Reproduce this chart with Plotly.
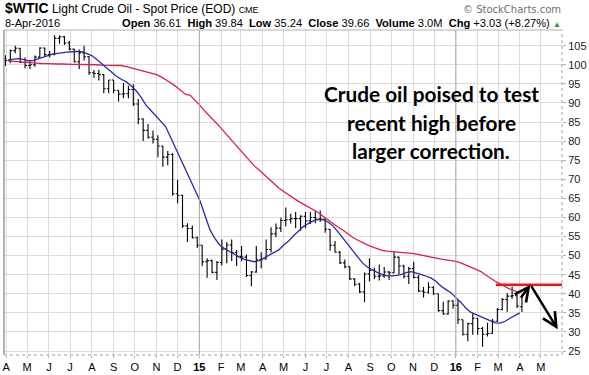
import pandas as pd
import plotly.graph_objects as go

# ---------------- data (weekly bars) ----------------
bar_start = "2014-03-31"
opens = [101.6,101.1,103.7,104.3,100.6,99.8,100.0,102.0,104.4,102.7,
         102.7,106.9,107.3,105.7,104.1,100.8,103.1,102.1,97.9,97.7,
         97.4,93.7,96.0,93.3,92.3,92.4,93.5,89.7,85.8,82.8,
         81.0,80.5,78.7,75.8,76.5,66.2,65.8,57.8,57.1,54.7,
         52.7,48.4,48.7,45.6,48.2,51.7,52.8,50.8,49.8,49.6,
         44.8,45.7,48.9,49.1,51.6,55.7,57.2,59.2,59.4,59.7,
         59.7,60.3,59.1,60.0,59.6,59.6,56.9,52.7,50.9,48.1,
         47.1,43.9,42.5,40.5,45.2,46.1,44.6,44.7,45.7,45.5,
         49.6,47.3,44.6,46.6,44.3,40.7,40.4,41.7,40.0,35.6,
         34.7,38.1,37.0,33.2,29.4,32.2,33.6,30.9,29.4,29.6,
         32.8,35.9,38.5,39.4,39.5,36.61]
highs = [102.5,104.0,105.0,104.4,101.9,101.0,102.4,104.6,104.5,103.6,
         107.7,107.7,107.5,106.2,104.2,104.0,105.0,102.3,98.6,98.7,
         97.5,96.0,96.0,93.3,95.2,94.5,94.9,91.0,86.0,84.5,
         82.8,81.5,78.7,77.4,76.9,69.9,65.9,58.5,57.9,55.0,
         52.7,49.3,49.0,48.6,54.2,53.6,54.2,51.5,52.5,50.3,
         46.0,52.5,50.9,54.2,57.4,58.4,59.9,62.6,61.0,61.4,
         60.6,61.4,61.4,61.6,61.8,59.7,57.0,53.8,51.2,49.0,
         47.2,44.0,42.9,45.6,49.3,46.8,47.7,47.0,46.0,50.9,
         49.8,47.6,47.0,48.4,44.9,41.8,43.0,42.0,40.0,37.9,
         38.3,38.3,38.4,33.2,32.4,34.8,33.6,31.4,32.4,33.4,
         36.3,38.9,40.2,41.9,39.9,39.84]
lows = [99.7,100.4,103.0,100.5,99.0,98.9,99.5,101.9,102.3,101.9,
        102.5,105.5,105.2,103.8,100.6,98.9,101.1,97.4,96.6,95.9,
        92.5,92.5,92.5,90.4,91.2,91.2,89.2,84.4,80.0,80.7,
        79.4,75.8,73.3,73.7,65.7,63.7,57.3,53.6,54.5,52.0,
        47.2,44.2,45.4,43.6,47.4,48.0,48.6,47.3,48.5,44.4,
        42.0,45.5,46.7,49.0,50.8,54.8,56.2,57.6,58.4,57.2,
        56.5,57.2,58.3,58.5,58.9,56.0,51.3,50.8,47.8,46.7,
        43.6,42.0,40.2,37.8,43.2,43.9,43.5,44.2,43.6,45.4,
        45.2,44.0,42.6,44.0,40.5,39.0,40.0,39.7,35.3,34.5,
        34.5,36.1,32.1,29.1,27.6,29.3,29.3,26.1,28.8,29.6,
        32.7,35.7,35.3,38.7,36.3,35.24]
closes = [101.1,103.7,104.3,100.6,99.8,100.0,102.0,104.4,102.7,102.7,
          106.9,107.3,105.7,104.1,100.8,103.1,102.1,97.9,97.7,97.4,
          93.7,96.0,93.3,92.3,92.4,93.5,89.7,85.8,82.8,81.0,
          80.5,78.7,75.8,76.5,66.2,65.8,57.8,57.1,54.7,52.7,
          48.4,48.7,45.6,48.2,51.7,52.8,50.8,49.8,49.6,44.8,
          45.7,48.9,49.1,51.6,55.7,57.2,59.2,59.4,59.7,59.7,
          60.3,59.1,60.0,59.6,59.6,56.9,52.7,50.9,48.1,47.1,
          43.9,42.5,40.5,45.2,46.1,44.6,44.7,45.7,45.5,49.6,
          47.3,44.6,46.6,44.3,40.7,40.4,41.7,40.0,35.6,34.7,
          38.1,37.0,33.2,29.4,32.2,33.6,30.9,29.4,29.6,32.8,
          35.9,38.5,39.4,39.5,36.8,39.66]

ma_start = "2014-04-04"
ma_short = [101.3,101.5,101.6,101.4,101.1,101.1,101.5,102.1,102.5,102.8,
            103.0,103.2,103.3,103.4,103.5,103.4,103.0,102.4,101.4,100.3,
            99.1,97.9,97.0,96.2,95.5,94.5,93.2,91.5,89.4,88.0,
            86.6,85.2,83.8,81.0,78.2,75.5,72.5,70.0,66.8,64.3,
            60.5,56.8,54.5,52.8,51.8,51.0,50.2,49.6,49.0,48.6,
            48.4,48.7,49.4,50.0,50.6,51.5,52.8,53.8,55.2,56.5,
            57.6,58.4,59.1,59.5,59.4,58.8,57.8,56.3,54.7,53.2,
            51.5,49.8,48.1,47.0,46.2,45.6,45.1,44.7,44.7,44.8,
            45.1,45.6,45.8,45.5,45.0,44.6,44.1,43.2,42.0,41.1,
            40.3,39.0,37.8,36.3,35.2,34.6,34.0,33.5,32.8,32.4,
            32.3,32.8,33.6,34.3,35.0]
ma_long = [101.0,100.9,100.8,100.6,100.5,100.4,100.3,100.3,100.3,100.2,
           100.2,100.2,100.1,100.1,100.1,100.1,100.1,100.0,100.0,99.9,
           99.9,99.9,99.8,99.8,99.5,99.2,98.9,98.6,98.3,97.9,
           97.5,96.9,96.2,95.3,94.4,93.3,92.3,92.0,90.7,89.3,
           87.8,86.5,85.3,83.8,82.3,80.8,79.3,77.8,76.4,74.9,
           73.5,72.4,71.2,70.0,68.8,67.7,66.8,65.9,65.1,64.2,
           63.5,62.8,62.0,61.3,60.3,59.3,58.3,57.5,56.7,55.7,
           54.8,54.1,53.4,52.8,52.3,51.8,51.4,51.2,51.1,51.0,
           51.0,50.9,50.6,50.4,50.1,49.9,49.6,49.4,49.1,48.9,
           48.8,48.5,48.1,47.6,47.1,46.5,45.9,45.0,44.1,43.3,
           42.6,41.9,41.2,40.8,40.3]

month_ticks = ["A","M","J","J","A","S","O","N","D","<b>15</b>","F","M",
               "A","M","J","J","A","S","O","N","D","<b>16</b>","F","M","A","M"]
y_ticks = list(range(25, 110, 5))

note_lines = ["Crude oil poised to test", "recent high before", "larger correction."]

resistance_level = 42.4
resistance_from = "2016-02-27"
arrow_up = [("2016-04-01", 38.6), ("2016-04-16", 42.4)]
arrow_down = [("2016-04-16", 42.4), ("2016-05-25", 30.7)]

# ---------------- figure ----------------
bar_dates = pd.date_range(bar_start, periods=len(closes), freq="7D")
ma_dates = pd.date_range(ma_start, periods=len(ma_short), freq="7D")
month_vals = pd.date_range("2014-04-01", periods=len(month_ticks), freq="MS")

fig = go.Figure()
fig.add_trace(go.Scatter(x=ma_dates, y=ma_long, mode="lines",
                         line=dict(color="#dc1e4b", width=1.3), hoverinfo="skip"))
fig.add_trace(go.Scatter(x=ma_dates, y=ma_short, mode="lines",
                         line=dict(color="#2a2aa6", width=1.3), hoverinfo="skip"))
fig.add_trace(go.Ohlc(x=bar_dates, open=opens, high=highs, low=lows, close=closes,
                      increasing=dict(line=dict(color="black", width=1.1)),
                      decreasing=dict(line=dict(color="black", width=1.1)),
                      tickwidth=0.38))

W, H = 589, 375
L, R, T, B = 2, 27, 30, 13
pw, ph = W - L - R, H - T - B
def px(x): return (x - L) / pw
def py(y): return (H - B - y) / ph

shapes = []
for yr in ["2015-01-01", "2016-01-01"]:
    shapes.append(dict(type="line", xref="x", yref="paper", x0=yr, x1=yr, y0=0, y1=1,
                       line=dict(color="#a8a8a8", width=1)))
shapes += [
    dict(type="line", xref="paper", yref="paper", x0=0, x1=0, y0=0, y1=1, line=dict(color="#9a9a9a", width=1.5)),
    dict(type="line", xref="paper", yref="paper", x0=0, x1=1, y0=1, y1=1, line=dict(color="#b0b0b0", width=1)),
    dict(type="line", xref="paper", yref="paper", x0=1, x1=1, y0=0, y1=1, line=dict(color="#a0a0a0", width=1, dash="dot")),
    dict(type="line", xref="paper", yref="paper", x0=0, x1=1, y0=0, y1=0, line=dict(color="#a0a0a0", width=1, dash="dot")),
    dict(type="line", xref="x", yref="y", x0=resistance_from, x1="2016-05-31",
         y0=resistance_level, y1=resistance_level, line=dict(color="#ff1010", width=2.5)),
]

ann = [
    dict(x=px(1), y=py(8), xref="paper", yref="paper", xanchor="left", yanchor="middle", showarrow=False,
         text="<b><span style='font-size:14px'>$WTIC</span></b> Light Crude Oil - Spot Price (EOD) <span style='font-size:9px'>CME</span>",
         font=dict(family="Liberation Sans, Arial", size=12, color="black")),
    dict(x=px(1), y=py(23), xref="paper", yref="paper", xanchor="left", yanchor="middle", showarrow=False,
         text="8-Apr-2016", font=dict(family="Liberation Sans, Arial", size=11, color="black")),
    dict(x=px(563), y=py(22.5), xref="paper", yref="paper", xanchor="right", yanchor="middle", showarrow=False,
         text="<b>Open</b> 36.61  <b>High</b> 39.84  <b>Low</b> 35.24  <b>Close</b> 39.66  <b>Volume</b> 3.0M  <b>Chg</b> +3.03 (+8.27%) <span style='color:#1a9a1a;font-size:8px'>▲</span>",
         font=dict(family="Liberation Sans, Arial", size=11.1, color="black")),
    dict(x=px(563), y=py(9), xref="paper", yref="paper", xanchor="right", yanchor="middle", showarrow=False,
         text="© StockCharts.com", font=dict(family="DejaVu Sans", size=10, color="#707070")),
]
for i, line in enumerate(note_lines):
    ann.append(dict(x=px(431), y=py(95 + 29 * i), xref="paper", yref="paper", xanchor="center",
                    yanchor="middle", showarrow=False, text="<b>" + line + "</b>",
                    font=dict(family="Lato", size=20.8, color="black")))
for (t, h) in (arrow_up, arrow_down):
    ann.append(dict(x=h[0], y=h[1], ax=t[0], ay=t[1], xref="x", yref="y", axref="x", ayref="y",
                    text="", showarrow=True, arrowhead=5, arrowsize=1.1, arrowwidth=2.5, arrowcolor="black"))

fig.update_layout(
    width=W, height=H, margin=dict(l=L, r=R, t=T, b=B),
    paper_bgcolor="white", plot_bgcolor="white", showlegend=False,
    shapes=shapes, annotations=ann,
    xaxis=dict(type="date", range=["2014-03-29", "2016-05-31"], rangeslider=dict(visible=False),
               tickvals=month_vals, ticktext=month_ticks, showgrid=True, gridcolor="#dcdcdc", gridwidth=1,
               ticks="outside", ticklen=2, tickcolor="#b0b0b0", showline=False, zeroline=False,
               tickfont=dict(family="Liberation Sans, Arial", size=11, color="black")),
    yaxis=dict(side="right", range=[23.97, 109.1], tickvals=y_ticks, showgrid=True, gridcolor="#dcdcdc",
               gridwidth=1, ticks="outside", ticklen=3, tickcolor="#b0b0b0", showline=False, zeroline=False,
               tickfont=dict(family="Liberation Sans, Arial", size=11, color="#222")),
)
fig.write_html("out.html", config={"displayModeBar": False},
               post_script="document.body.style.margin='0px';")
